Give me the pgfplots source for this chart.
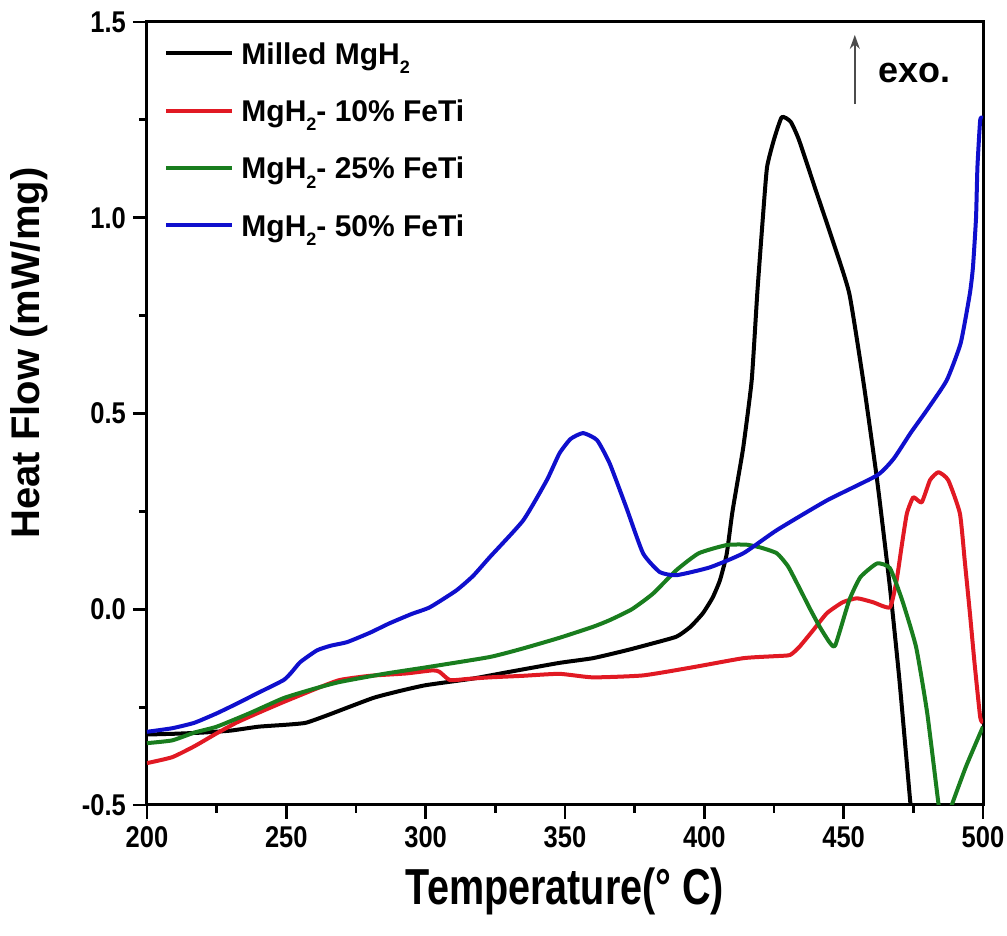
\documentclass[border=0pt]{standalone}
\usepackage{pgfplots}
\pgfplotsset{compat=1.18}
\usetikzlibrary{arrows.meta}
\usepackage{fontspec}
\setmainfont{Liberation Sans}
\usepackage{graphicx}
\newcommand\sx[1]{\scalebox{0.85}[1]{#1}}
\newcommand\sub[1]{\raisebox{-0.6ex}{\fontsize{9}{9}\selectfont #1}}
\newcommand\lstrut{\rule[-11.1pt]{0pt}{30.25pt}}
\newcommand\lline[1]{\textcolor{#1}{\rule[4.4pt]{33pt}{2pt}}\hspace{4.5pt}}
\definecolor{cred}{RGB}{225,25,35}
\definecolor{cgreen}{RGB}{25,125,30}
\definecolor{cblue}{RGB}{15,15,205}
\begin{document}
\begin{tikzpicture}
\useasboundingbox (-73.5pt,-65.5pt) rectangle (430pt,402.5pt);
\begin{axis}[
  at={(0,0)}, anchor=south west,
  scale only axis, width=418pt, height=391.5pt,
  xmin=200, xmax=500, ymin=-0.5, ymax=1.5,
  xtick={200,250,300,350,400,450,500},
  xticklabels={\sx{200},\sx{250},\sx{300},\sx{350},\sx{400},\sx{450},\sx{500}},
  ytick={-0.5,0,0.5,1,1.5},
  yticklabels={\sx{-0.5},\sx{0.0},\sx{0.5},\sx{1.0},\sx{1.5}},
  minor x tick num=1, minor y tick num=1,
  tick align=outside, tick pos=left,
  major tick length=7pt, minor tick length=4pt,
  axis line style={line width=1.5pt},
  every tick/.style={line width=1.4pt, black},
  tick label style={font=\fontsize{15}{15}\selectfont\bfseries},
  xlabel={\scalebox{0.86}[1.1]{Temperature(° C)}},
  xlabel style={at={(axis description cs:0.5,-0.11)}, anchor=center, font=\fontsize{23}{23}\selectfont\bfseries},
  ylabel={Heat Flow (mW/mg)},
  ylabel style={at={(axis description cs:-0.141,0.577)}, anchor=center, font=\fontsize{20}{20}\selectfont\bfseries},
  legend cell align=left,
  legend image code/.code={},
  legend style={at={(axis description cs:0.024,1.0058)}, anchor=north west, xshift=-5.5pt, draw=none, fill=none,
    font=\fontsize{15}{15}\selectfont\bfseries, row sep=4pt, column sep=0pt},
  every axis plot/.append style={line width=2pt, line join=round, smooth, tension=0.3},
]
\addplot[black] coordinates {
(200,-0.32) (210,-0.318) (220,-0.315) (230,-0.31) (240,-0.30) (250,-0.295) (257,-0.29) (265,-0.27) (281,-0.227) (290,-0.21) (300,-0.194) (317,-0.177) (330,-0.16) (348,-0.137) (360,-0.125) (372,-0.105) (380,-0.09) (390,-0.07) (395,-0.045) (399.5,-0.01) (403,0.03) (405.6,0.074) (408,0.14) (410,0.245) (412,0.33) (414,0.415) (417,0.585) (419,0.807) (421,1.0) (422.5,1.129) (425,1.2) (427.8,1.257) (431,1.245) (434,1.198) (440,1.07) (446,0.943) (452,0.807) (457,0.585) (462,0.33) (466.6,0.056) (470,-0.18) (474,-0.5) (475,-0.56)
};
\addlegendentry{\lstrut\lline{black}Milled MgH\sub{2}}
\addplot[cred] coordinates {
(200,-0.393) (209,-0.378) (217,-0.35) (225,-0.317) (232,-0.29) (239.5,-0.266) (249,-0.237) (260,-0.205) (269,-0.181) (280,-0.17) (293,-0.164) (302.6,-0.156) (305,-0.16) (308.7,-0.181) (315,-0.178) (323,-0.174) (335,-0.17) (348,-0.165) (360,-0.174) (378,-0.169) (396,-0.148) (414,-0.125) (425,-0.12) (430.7,-0.117) (434,-0.097) (439,-0.054) (444,-0.01) (449.7,0.018) (454.8,0.028) (460.5,0.018) (466.6,0.005) (469,0.074) (471,0.17) (472.7,0.245) (475,0.286) (478,0.273) (481,0.33) (484,0.35) (487.5,0.33) (491.7,0.245) (493.5,0.12) (495.3,-0.01) (497,-0.14) (499,-0.276) (500,-0.29)
};
\addlegendentry{\lstrut\lline{cred}MgH\sub{2}- 10\% FeTi}
\addplot[cgreen] coordinates {
(200,-0.342) (209,-0.335) (217,-0.315) (225,-0.30) (237,-0.265) (249,-0.227) (260,-0.203) (269,-0.186) (285,-0.165) (300.5,-0.148) (323,-0.122) (335,-0.10) (348,-0.073) (360,-0.045) (366,-0.028) (374,0.0) (381.6,0.04) (390,0.1) (398,0.143) (408,0.164) (415,0.165) (420,0.158) (426,0.143) (430,0.11) (434,0.056) (438,0.0) (441.5,-0.046) (445,-0.085) (447,-0.092) (452,0.023) (456,0.082) (462,0.117) (466.6,0.105) (471,0.023) (476,-0.097) (480,-0.266) (484,-0.496) (485.5,-0.57) (489,-0.496) (494,-0.40) (500,-0.30)
};
\addlegendentry{\lstrut\lline{cgreen}MgH\sub{2}- 25\% FeTi}
\addplot[cblue] coordinates {
(200,-0.313) (209,-0.304) (217,-0.29) (225,-0.266) (232,-0.242) (239.5,-0.215) (249,-0.181) (252,-0.16) (255,-0.135) (261,-0.105) (266,-0.093) (271.8,-0.084) (280,-0.06) (287,-0.036) (295,-0.012) (301.5,0.005) (311,0.048) (317,0.085) (323,0.133) (335,0.227) (343.5,0.33) (348,0.398) (352,0.435) (356.5,0.45) (361.5,0.432) (366,0.373) (372,0.26) (378,0.143) (384,0.095) (390,0.087) (402,0.107) (414,0.143) (426,0.202) (444,0.278) (462,0.342) (468,0.385) (474,0.45) (480,0.51) (487,0.585) (492,0.68) (495.3,0.807) (496.4,0.874) (497.5,1.0) (498,1.129) (499,1.25) (500,1.255)
};
\addlegendentry{\lstrut\lline{cblue}MgH\sub{2}- 50\% FeTi}
\draw[-{Stealth[length=7pt,width=5pt]}, black!70, line width=0.7pt] (axis cs:454,1.29) -- (axis cs:454,1.467);
\node[anchor=west, font=\fontsize{18}{18}\selectfont\bfseries] at (axis cs:460,1.37) {exo.};
\end{axis}
\end{tikzpicture}
\end{document}
